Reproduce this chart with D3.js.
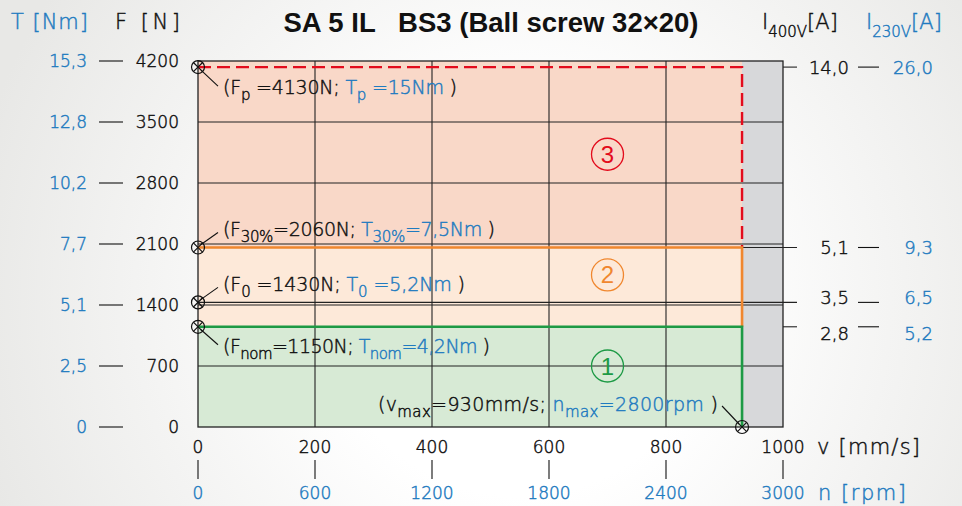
<!DOCTYPE html>
<html>
<head>
<meta charset="utf-8">
<script src="https://cdn.jsdelivr.net/npm/d3@7"></script>
<style>
  body { margin: 0; background: #fff; }
  svg { display: block; }
  .thin text { stroke-width: 0.45px; paint-order: stroke; }
</style>
</head>
<body>
<svg></svg>
<script>
// chart values
const vTicks = [0, 200, 400, 600, 800, 1000];           // v [mm/s]
const nTicks = [0, 600, 1200, 1800, 2400, 3000];        // n [rpm]
const fTicks = [0, 700, 1400, 2100, 2800, 3500, 4200];  // F [N]
const tTicks = ['0', '2,5', '5,1', '7,7', '10,2', '12,8', '15,3']; // T [Nm]

const loadNames = ['p', '30%', '0', 'nom'];
const loadF = [4130, 2060, 1430, 1150];
const loadT = ['15', '7,5', '5,2', '4,2'];
const i400 = ['14,0', '5,1', '3,5', '2,8'];
const i230 = ['26,0', '9,3', '6,5', '5,2'];

const vMax = 930;
const nMax = 2800;
const zoneTop = [1150, 2060, 4200];   // upper F of zones 1,2,3
const zoneNumF = [700, 1745, 3130];   // where the circled numbers sit

(() => {
    const W = 962, H = 506;
    const blue = '#1f7bc0', red = '#e30b1c', orange = '#f0872e', green = '#1d9a45', ink = '#111';
    const font = "'DejaVu Sans', sans-serif";

    const svg = d3.select('svg').attr('width', W).attr('height', H);

    // background (grey edges, light middle)
    const defs = svg.append('defs');
    const grad = defs.append('radialGradient').attr('id', 'bg')
        .attr('gradientUnits', 'userSpaceOnUse')
        .attr('cx', 520).attr('cy', 300).attr('r', 560);
    grad.append('stop').attr('offset', '0.35').attr('stop-color', '#ffffff');
    grad.append('stop').attr('offset', '1').attr('stop-color', '#e8e8e6');
    svg.append('rect').attr('width', W).attr('height', H).attr('fill', 'url(#bg)');

    const x = d3.scaleLinear().domain([0, 1000]).range([198, 783]);
    const xn = d3.scaleLinear().domain([0, 3000]).range([198, 783]);
    const y = d3.scaleLinear().domain([0, 4200]).range([427, 61]);

    // rich text helper: parts = [[text, color, isSub]]
    function rich(sel, parts, subSize, drop) {
        let down = false;
        drop = drop || 6;
        parts.forEach(([t, c, sub]) => {
            const ts = sel.append('tspan').text(t).attr('fill', c).attr('stroke', c);
            if (sub && !down) { ts.attr('dy', drop).attr('font-size', subSize); down = true; }
            else if (sub) { ts.attr('font-size', subSize); }
            else if (down) { ts.attr('dy', -drop); down = false; }
        });
        return sel;
    }

    // zones
    const zoneFill = ['#d7ead5', '#fde9d9', '#f9d8c8'];
    const zoneLow = [0].concat(zoneTop.slice(0, 2));
    svg.append('g').selectAll('rect')
        .data(zoneTop)
        .enter().append('rect')
        .attr('x', x(0))
        .attr('y', d => y(d))
        .attr('width', x(1000) - x(0))
        .attr('height', (d, i) => y(zoneLow[i]) - y(d))
        .attr('fill', (d, i) => zoneFill[i]);

    // region beyond v max
    svg.append('rect')
        .attr('x', x(vMax)).attr('y', y(4200))
        .attr('width', x(1000) - x(vMax)).attr('height', y(0) - y(4200))
        .attr('fill', '#d7d8da');

    // grid
    const grid = svg.append('g').attr('stroke', '#222').attr('stroke-width', 1.1);
    grid.selectAll('.gx').data(vTicks.slice(1, -1)).enter().append('line')
        .attr('x1', d => x(d)).attr('x2', d => x(d))
        .attr('y1', y(0)).attr('y2', y(4200));
    grid.selectAll('.gy').data(fTicks.slice(1, -1)).enter().append('line')
        .attr('x1', x(0)).attr('x2', x(1000))
        .attr('y1', d => y(d)).attr('y2', d => y(d));
    svg.append('rect')
        .attr('x', x(0)).attr('y', y(4200))
        .attr('width', x(1000) - x(0)).attr('height', y(0) - y(4200))
        .attr('fill', 'none').attr('stroke', '#222').attr('stroke-width', 1.3);

    // reference lines out to the current axis
    const refStart = [1000, vMax, 0, 1000];
    svg.append('g').selectAll('line').data(loadF).enter().append('line')
        .attr('x1', (d, i) => x(refStart[i])).attr('x2', x(1000) + 14)
        .attr('y1', d => y(d)).attr('y2', d => y(d))
        .attr('stroke', '#222').attr('stroke-width', 1.1);

    // limit curves
    const lim = d3.line().x(d => x(d[0])).y(d => y(d[1]));
    svg.append('path')
        .attr('d', lim([[0, loadF[0]], [vMax, loadF[0]], [vMax, loadF[1]]]))
        .attr('fill', 'none').attr('stroke', red).attr('stroke-width', 2.4)
        .attr('stroke-dasharray', '13,6');
    svg.append('path')
        .attr('d', lim([[0, loadF[1]], [vMax, loadF[1]], [vMax, loadF[3]]]))
        .attr('fill', 'none').attr('stroke', orange).attr('stroke-width', 2.6);
    svg.append('path')
        .attr('d', lim([[0, loadF[3]], [vMax, loadF[3]], [vMax, 0]]))
        .attr('fill', 'none').attr('stroke', green).attr('stroke-width', 2.6);

    // circled zone numbers
    const zoneCol = [green, orange, red];
    const zn = svg.append('g').selectAll('g').data(zoneNumF).enter().append('g')
        .attr('transform', d => `translate(${x(700)}, ${y(d)})`);
    zn.append('circle').attr('r', 16).attr('fill', 'none')
        .attr('stroke', (d, i) => zoneCol[i]).attr('stroke-width', 1.3);
    zn.append('text').attr('text-anchor', 'middle').attr('dy', 8.5)
        .attr('font-family', "'Liberation Sans', sans-serif").attr('font-size', 24)
        .attr('fill', (d, i) => zoneCol[i])
        .text((d, i) => i + 1);

    // operating point markers
    const pts = loadF.map(f => [0, f]).concat([[vMax, 0]]);
    const mk = svg.append('g').selectAll('g').data(pts).enter().append('g')
        .attr('transform', d => `translate(${x(d[0])}, ${y(d[1])})`)
        .attr('stroke', ink).attr('stroke-width', 1.2).attr('fill', 'none');
    mk.append('circle').attr('r', 6.5);
    mk.append('path').attr('d', 'M-4.6,-4.6L4.6,4.6M-4.6,4.6L4.6,-4.6');

    // annotations
    const annDy = [21, -17, -17, 20];
    const annW = [234, 272, 242, 267];
    const ann = svg.append('g').attr('class', 'thin')
        .attr('font-family', font).attr('font-size', 19).attr('font-weight', 200);
    loadF.forEach((f, i) => {
        const y0 = y(f), ty = y0 + annDy[i];
        const dir = annDy[i] > 0 ? 1 : -1;
        ann.append('line')
            .attr('x1', x(0) + 3).attr('y1', y0 + dir * 3)
            .attr('x2', x(0) + 20).attr('y2', ty - dir * 2)
            .attr('stroke', ink).attr('stroke-width', 1.1);
        const gap = loadNames[i].length === 1 ? ' ' : '';
        const t = ann.append('text').attr('x', x(0) + 25).attr('y', ty + 6)
            .attr('textLength', annW[i]).attr('lengthAdjust', 'spacing');
        rich(t, [
            ['(F', ink], [loadNames[i], ink, true],
            [gap + '=' + f + 'N; ', ink],
            ['T', blue], [loadNames[i], blue, true],
            [gap + '=' + loadT[i] + 'Nm', blue], [' )', ink]
        ], 15);
    });
    ann.append('line')
        .attr('x1', x(vMax) - 3).attr('y1', y(0) - 3)
        .attr('x2', x(vMax) - 20).attr('y2', y(0) - 21)
        .attr('stroke', ink).attr('stroke-width', 1.1);
    rich(ann.append('text').attr('x', 378).attr('y', y(0) - 16)
        .attr('textLength', 340).attr('lengthAdjust', 'spacing'), [
        ['(v', ink], ['max', ink, true], ['=' + vMax + 'mm/s; ', ink],
        ['n', blue], ['max', blue, true], ['=' + nMax + 'rpm', blue], [' )', ink]
    ], 15);

    // left axis labels: T | dash | F
    const left = svg.append('g').attr('class', 'thin')
        .attr('font-family', font).attr('font-size', 17).attr('font-weight', 200);
    left.selectAll('.t').data(tTicks).enter().append('text')
        .attr('x', 87).attr('y', (d, i) => y(fTicks[i]) + 6)
        .attr('text-anchor', 'end').attr('fill', blue).attr('stroke', blue).text(d => d);
    left.selectAll('.f').data(fTicks).enter().append('text')
        .attr('x', 179).attr('y', d => y(d) + 6)
        .attr('text-anchor', 'end').attr('fill', ink).attr('stroke', ink).text(d => d);
    left.selectAll('line').data(fTicks).enter().append('line')
        .attr('x1', 99).attr('x2', 123)
        .attr('y1', d => y(d)).attr('y2', d => y(d))
        .attr('stroke', ink).attr('stroke-width', 1.1);

    // right axis labels: I400 | dash | I230
    const shift = [0, 0, -5, 7];
    const right = svg.append('g').attr('class', 'thin')
        .attr('font-family', font).attr('font-size', 18).attr('font-weight', 200);
    right.selectAll('.a').data(i400).enter().append('text')
        .attr('x', 849).attr('y', (d, i) => y(loadF[i]) + shift[i] + 6.5)
        .attr('text-anchor', 'end').attr('fill', ink).attr('stroke', ink).text(d => d);
    right.selectAll('.b').data(i230).enter().append('text')
        .attr('x', 933).attr('y', (d, i) => y(loadF[i]) + shift[i] + 6.5)
        .attr('text-anchor', 'end').attr('fill', blue).attr('stroke', blue).text(d => d);
    right.selectAll('line').data(loadF).enter().append('line')
        .attr('x1', 858).attr('x2', 879)
        .attr('y1', d => y(d)).attr('y2', d => y(d))
        .attr('stroke', ink).attr('stroke-width', 1.1);

    // bottom axes: v over n
    const bottom = svg.append('g').attr('class', 'thin')
        .attr('font-family', font).attr('font-size', 17).attr('font-weight', 200);
    bottom.selectAll('.v').data(vTicks).enter().append('text')
        .attr('x', d => x(d)).attr('y', 453)
        .attr('text-anchor', 'middle').attr('fill', ink).attr('stroke', ink).text(d => d);
    bottom.selectAll('.n').data(nTicks).enter().append('text')
        .attr('x', d => xn(d)).attr('y', 499)
        .attr('text-anchor', 'middle').attr('fill', blue).attr('stroke', blue).text(d => d);
    bottom.selectAll('line').data(vTicks).enter().append('line')
        .attr('x1', d => x(d)).attr('x2', d => x(d))
        .attr('y1', 460).attr('y2', 479)
        .attr('stroke', ink).attr('stroke-width', 1.1);

    // axis titles
    const ttl = svg.append('g').attr('class', 'thin')
        .attr('font-family', font).attr('font-size', 21).attr('font-weight', 200);
    ttl.append('text').attr('x', 11).attr('y', 29).attr('fill', blue).attr('stroke', blue)
        .attr('textLength', 77).text('T [Nm]');
    ttl.append('text').attr('x', 115).attr('y', 29).attr('fill', ink).attr('stroke', ink)
        .attr('textLength', 65).text('F [N]');
    ttl.append('text').attr('x', 817).attr('y', 454).attr('fill', ink).attr('stroke', ink)
        .attr('textLength', 103).text('v [mm/s]');
    ttl.append('text').attr('x', 818).attr('y', 500).attr('fill', blue).attr('stroke', blue)
        .attr('textLength', 88).text('n [rpm]');
    rich(ttl.append('text').attr('x', 762).attr('y', 29), [
        ['I', ink], ['400V', ink, true], ['[A]', ink]
    ], 15, 8);
    rich(ttl.append('text').attr('x', 866).attr('y', 29), [
        ['I', blue], ['230V', blue, true], ['[A]', blue]
    ], 15, 8);

    // chart title
    svg.append('text')
        .attr('x', 491).attr('y', 32)
        .attr('text-anchor', 'middle')
        .attr('font-family', "'Liberation Sans', Arial, sans-serif")
        .attr('font-weight', 'bold').attr('font-size', 27.5)
        .attr('fill', ink)
        .style('white-space', 'pre')
        .text('SA 5 IL   BS3 (Ball screw 32\u00d720)');
})();
</script>
</body>
</html>
